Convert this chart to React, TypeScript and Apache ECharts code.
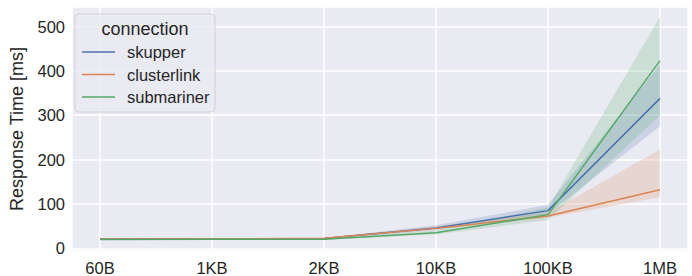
import React, { useEffect, useRef } from "react";
import * as echarts from "echarts";

const categories = ["60B", "1KB", "2KB", "10KB", "100KB", "1MB"];
const seriesNames = ["skupper", "clusterlink", "submariner"];
const colors = ["#4c72b0", "#dd8452", "#55a868"];

const skupper = [21, 21.5, 22, 46, 85, 338];
const skupperLo = [19.5, 20.5, 21, 41, 78, 275];
const skupperHi = [22.5, 22.5, 23.5, 52, 98, 414];

const clusterlink = [21, 21.5, 22.5, 45, 73, 132];
const clusterlinkLo = [19.5, 20.5, 21, 42, 69, 115];
const clusterlinkHi = [22.5, 22.5, 23.5, 49, 80, 223];

const submariner = [20, 20.5, 20.5, 35, 76, 423];
const submarinerLo = [19, 19.5, 19.5, 31, 64, 300];
const submarinerHi = [21, 21.5, 21.5, 40, 92, 522];

const fontFam = "'Liberation Sans', Arial, sans-serif";

function bandSeries(name: string, lo: number[], hi: number[], color: string) {
  return {
    name: name + "_band",
    type: "custom",
    data: lo.map((v, i) => [i, v, hi[i]]),
    silent: true,
    z: 1,
    renderItem: (params: any, api: any) => {
      if (params.dataIndexInside !== 0) return null;
      const n = lo.length;
      const upper: number[][] = [];
      const lower: number[][] = [];
      for (let j = 0; j < n; j++) {
        const x = api.value(0, j);
        upper.push(api.coord([x, api.value(2, j)]));
        lower.push(api.coord([x, api.value(1, j)]));
      }
      const pts = upper.concat(lower.reverse());
      return {
        type: "polygon",
        shape: { points: pts },
        style: { fill: color, opacity: 0.2 },
      };
    },
  };
}

function lineSeries(name: string, vals: number[], color: string) {
  return {
    name,
    type: "line",
    data: vals.map((v, i) => [i, v]),
    symbol: "none",
    lineStyle: { color, width: 1.5 },
    z: 3,
  };
}

export default function App() {
  const ref = useRef<HTMLDivElement>(null);
  useEffect(() => {
    if (!ref.current) return;
    const chart = echarts.init(ref.current, undefined, { renderer: "svg" });
    const rows = [52, 74.5, 97];
    const graphics: any[] = [
      {
        type: "rect",
        shape: { x: 75, y: 14, width: 140, height: 98, r: 4 },
        style: { fill: "rgba(234,234,242,0.8)", stroke: "rgba(204,204,204,0.8)", lineWidth: 1 },
        z: 10,
      },
      {
        type: "text",
        x: 145,
        y: 29,
        style: {
          text: "connection",
          font: `18px ${fontFam}`,
          fill: "#262626",
          align: "center",
          verticalAlign: "middle",
        },
        z: 11,
      },
    ];
    seriesNames.forEach((n, i) => {
      graphics.push({
        type: "line",
        shape: { x1: 82, y1: rows[i], x2: 115, y2: rows[i] },
        style: { stroke: colors[i], lineWidth: 1.5 },
        z: 11,
      });
      graphics.push({
        type: "text",
        x: 127,
        y: rows[i],
        style: {
          text: n,
          font: `16.5px ${fontFam}`,
          fill: "#262626",
          align: "left",
          verticalAlign: "middle",
        },
        z: 11,
      });
    });

    chart.setOption({
      animation: false,
      grid: {
        left: 67,
        right: 4,
        top: 7,
        bottom: 24,
        show: true,
        backgroundColor: "#eaeaf2",
        borderWidth: 0,
      },
      xAxis: {
        type: "value",
        min: -0.25,
        max: 5.25,
        splitNumber: 5,
        axisLine: { show: false },
        axisTick: { show: false },
        splitLine: { show: true, lineStyle: { color: "#ffffff", width: 1.5 } },
        axisLabel: {
          showMinLabel: false,
          showMaxLabel: false,
          margin: 8,
          color: "#262626",
          fontFamily: fontFam,
          fontSize: 16.5,
          formatter: (v: number) =>
            Number.isInteger(v) && v >= 0 && v < categories.length ? categories[v] : "",
        },
      },
      yAxis: {
        type: "value",
        min: -6,
        max: 544,
        splitNumber: 5,
        name: "Response Time [ms]",
        nameLocation: "middle",
        nameGap: 46,
        nameTextStyle: { fontFamily: fontFam, fontSize: 18, color: "#262626" },
        axisLine: { show: false },
        axisTick: { show: false },
        splitLine: { show: true, lineStyle: { color: "#ffffff", width: 1.5 } },
        axisLabel: {
          showMinLabel: false,
          showMaxLabel: false,
          margin: 7,
          color: "#262626",
          fontFamily: fontFam,
          fontSize: 16.5,
        },
      },
      series: [
        bandSeries("skupper", skupperLo, skupperHi, colors[0]),
        bandSeries("clusterlink", clusterlinkLo, clusterlinkHi, colors[1]),
        bandSeries("submariner", submarinerLo, submarinerHi, colors[2]),
        lineSeries("skupper", skupper, colors[0]),
        lineSeries("clusterlink", clusterlink, colors[1]),
        lineSeries("submariner", submariner, colors[2]),
      ],
      graphic: graphics,
    });
    return () => chart.dispose();
  }, []);
  return (
    <div
      ref={ref}
      style={{ position: "fixed", left: 0, top: 0, width: 692, height: 276, background: "#ffffff" }}
    />
  );
}
